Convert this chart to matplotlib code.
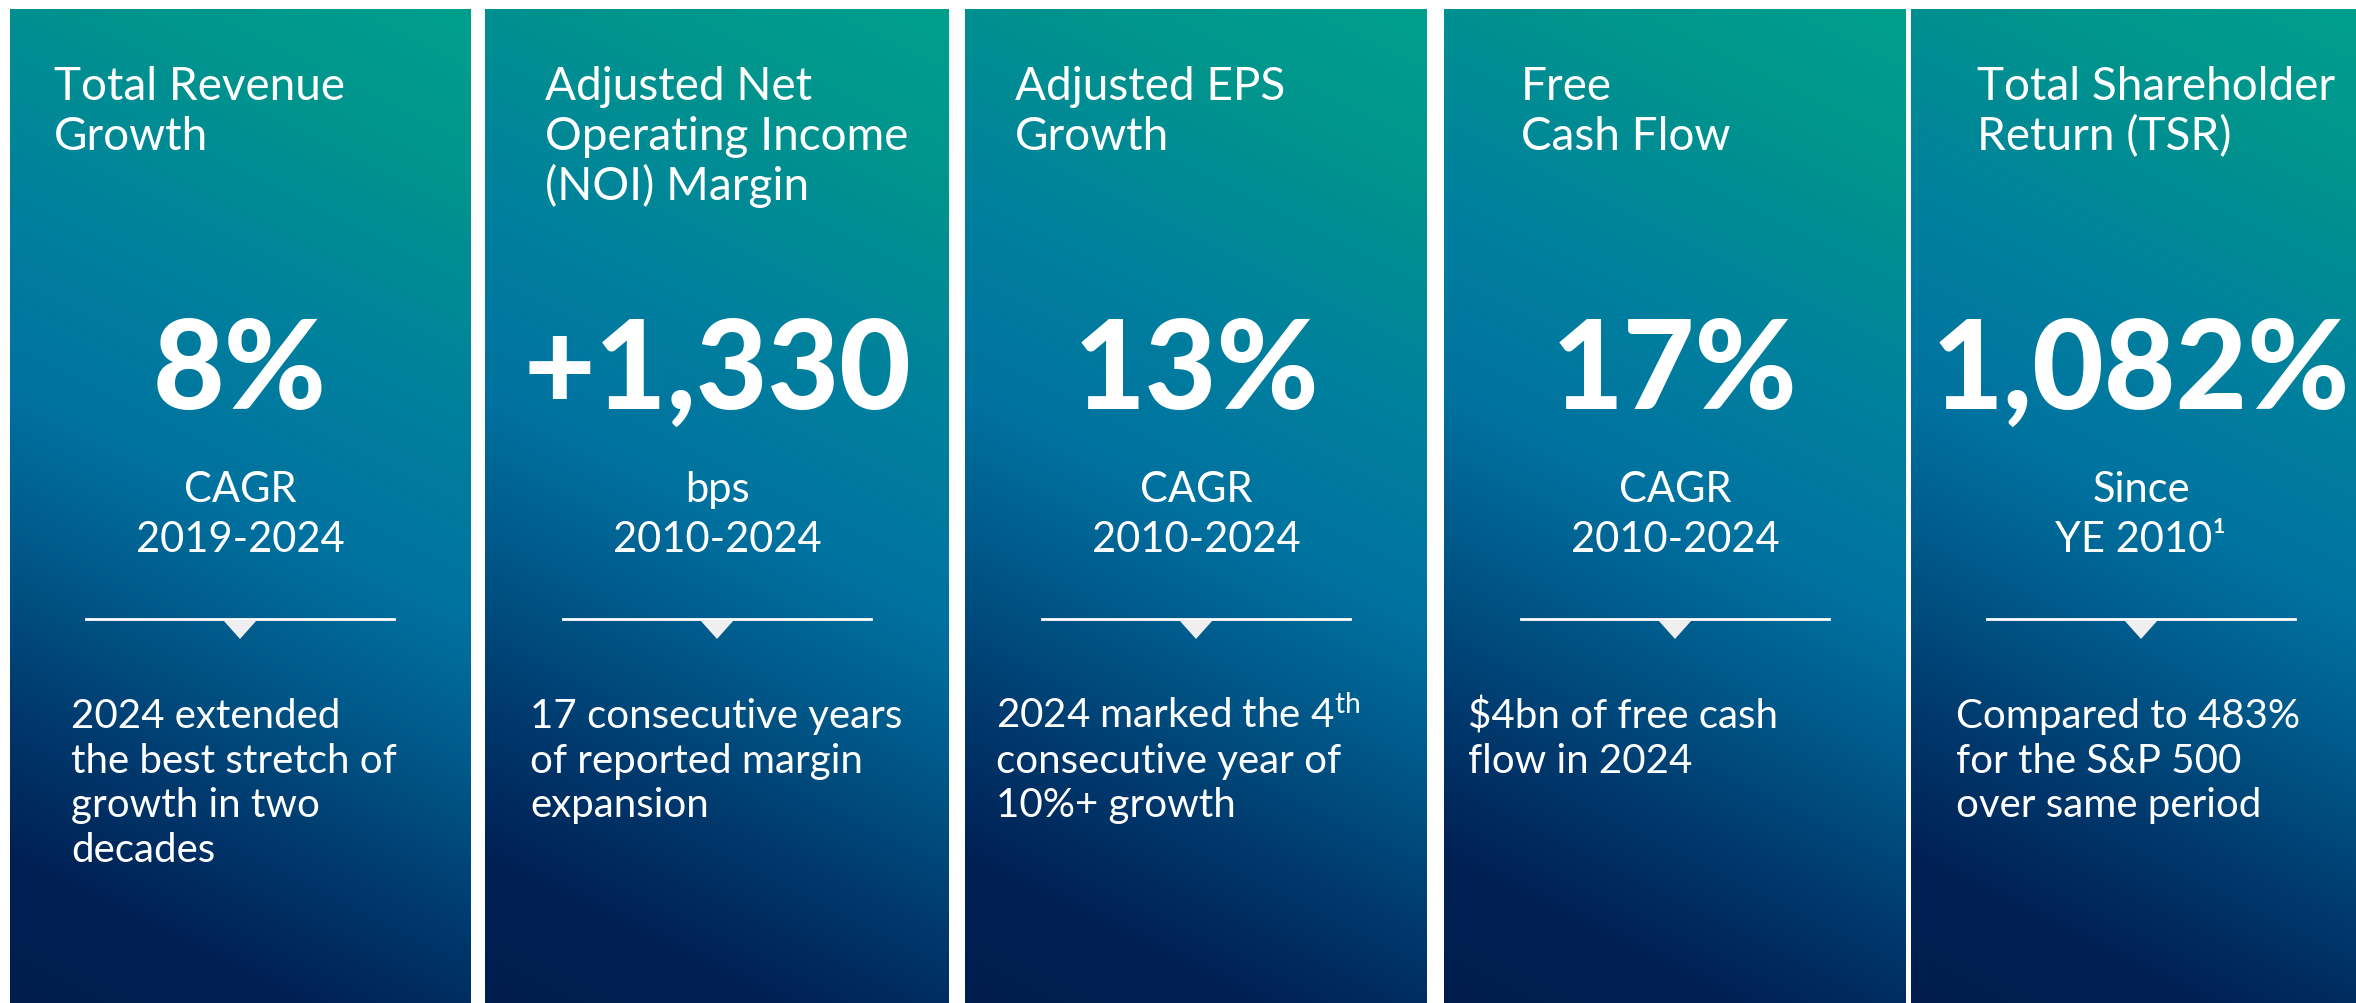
import numpy as np
import matplotlib.pyplot as plt
from matplotlib.colors import to_rgb
from matplotlib.patches import Polygon

plt.rcParams['font.family'] = ['Lato', 'DejaVu Sans']
plt.rcParams['mathtext.fontset'] = 'custom'
plt.rcParams['mathtext.rm'] = 'Lato'
plt.rcParams['mathtext.it'] = 'Lato'

# ---- data ----
titles = [
    ["Total Revenue", "Growth"],
    ["Adjusted Net", "Operating Income", "(NOI) Margin"],
    ["Adjusted EPS", "Growth"],
    ["Free", "Cash Flow"],
    ["Total Shareholder", "Return (TSR)"],
]
values = ["8%", "+1,330", "13%", "17%", "1,082%"]
units = ["CAGR", "bps", "CAGR", "CAGR", "Since"]
periods = ["2019-2024", "2010-2024", "2010-2024", "2010-2024", "YE 2010\u00b9"]
notes = [
    ["2024 extended", "the best stretch of", "growth in two", "decades"],
    ["17 consecutive years", "of reported margin", "expansion"],
    [r"2024 marked the 4$^{\mathrm{th}}$", "consecutive year of", "10%+ growth"],
    ["$4bn of free cash", "flow in 2024"],
    ["Compared to 483%", "for the S&P 500", "over same period"],
]

# ---- layout (pixels) ----
W, H = 2356, 1003
panel_x = [(10, 471), (485, 949), (965, 1427), (1444, 1906), (1911, 2356)]
centers = [240, 717, 1196, 1675, 2141]
title_x = [54, 545, 1015, 1521, 1977]
note_x = [71, 530, 996, 1468, 1956]
top = 10

stops = [(0.00, "#00A08C"), (0.15, "#00948E"), (0.35, "#007F9E"),
         (0.50, "#0072A0"), (0.62, "#00598A"), (0.75, "#003A6E"),
         (0.88, "#002054"), (1.00, "#001D4E")]
st = np.array([s[0] for s in stops])
sc = np.array([to_rgb(s[1]) for s in stops])


def gradient(w, h, pw=462, k=0.5):
    xx, yy = np.meshgrid(np.arange(w), np.arange(h))
    t = (yy + k * (pw - xx)) / (h + k * pw)
    t = np.clip(t, 0, 1)
    img = np.zeros((h, w, 3))
    for c in range(3):
        img[..., c] = np.interp(t, st, sc[:, c])
    return img


fig = plt.figure(figsize=(W / 100, H / 100 + 0.001), dpi=100)
ax = fig.add_axes([0, 0, 1, 1])
ax.set_xlim(0, W)
ax.set_ylim(H, 0)
ax.axis("off")

for i, (x0, x1) in enumerate(panel_x):
    img = gradient(x1 - x0, H - top)
    ax.imshow(img, extent=(x0, x1, H, top), origin="upper", aspect="auto",
              interpolation="bilinear", zorder=1)
    cx = centers[i]

    for j, line in enumerate(titles[i]):
        ax.text(title_x[i], 100 + 50 * j, line, color="white", fontsize=33,
                ha="left", va="baseline", zorder=3)

    ax.text(cx, 409, values[i], color="white", fontsize=89, fontweight="black",
            ha="center", va="baseline", zorder=3)
    ax.text(cx, 502, units[i], color="white", fontsize=30,
            ha="center", va="baseline", zorder=3)
    ax.text(cx, 552, periods[i], color="white", fontsize=30,
            ha="center", va="baseline", zorder=3)

    ax.plot([cx - 154, cx + 154], [619, 619], color="white", lw=2, zorder=3)
    ax.add_patch(Polygon([[cx - 17, 620], [cx + 17, 620], [cx, 639]],
                         closed=True, facecolor="#EFEFEF", edgecolor="none",
                         zorder=3))

    for j, line in enumerate(notes[i]):
        ax.text(note_x[i], 728 + 44.7 * j, line, color="white", fontsize=29,
                ha="left", va="baseline", zorder=3)

fig.savefig("out.png", dpi=100, facecolor="white")
